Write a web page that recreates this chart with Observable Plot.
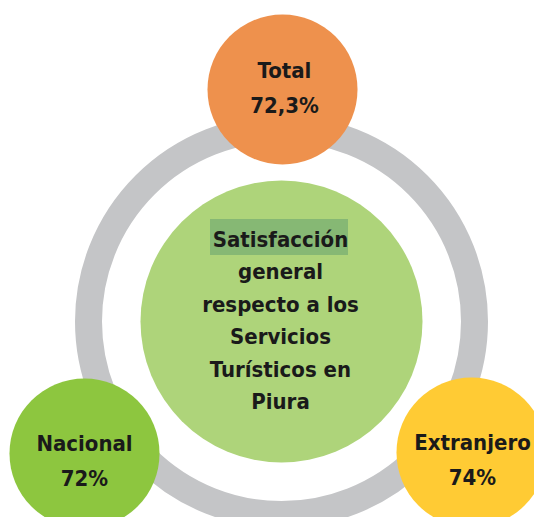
<!DOCTYPE html>
<html>
<head>
<meta charset="utf-8">
<script src="https://cdn.jsdelivr.net/npm/d3@7"></script>
<script src="https://cdn.jsdelivr.net/npm/@observablehq/plot@0.6"></script>
<style>
  html, body { margin: 0; padding: 0; background: #fff; overflow: hidden; }
  #chart svg { display: block; }
</style>
</head>
<body>
<div id="chart"></div>
<script>
// ---- data ----
const categories = ["Total", "Nacional", "Extranjero"];
const satisfaction = [72.3, 72, 74];
const centerTitle = ["Satisfacción", "general", "respecto a los", "Servicios", "Turísticos en", "Piura"];

// ---- layout (chart units = pixels of the 534x517 frame) ----
const hub = {x: 281, y: 321};
const nodeLayout = [
  {x: 282, y: 89,  tx: 284, ty: 84,  color: "#EE914D"},
  {x: 84,  y: 453, tx: 84,  ty: 457, color: "#8DC63F"},
  {x: 471, y: 452, tx: 472, ty: 456, color: "#FFCB34"}
];
const nodes = categories.map((c, i) => ({
  name: c,
  value: satisfaction[i],
  label: c + "\n" + String(satisfaction[i]).replace(".", ",") + "%",
  ...nodeLayout[i]
}));
const highlight = [{x1: 210, x2: 348, y1: 219, y2: 255}];

const font = "'DejaVu Sans Condensed', 'DejaVu Sans', sans-serif";

const chart = Plot.plot({
  width: 534,
  height: 517,
  margin: 0,
  style: {background: "#fff", fontFamily: font},
  x: {domain: [0, 534], range: [0, 534], axis: null},
  y: {domain: [0, 517], range: [0, 517], axis: null},
  marks: [
    Plot.dot([hub], {x: "x", y: "y", r: 193, stroke: "#C4C5C7", strokeWidth: 27, fill: "none"}),
    Plot.dot([hub], {x: "x", y: "y", r: 141, fill: "#AED47A", stroke: "none"}),
    Plot.rect(highlight, {x1: "x1", x2: "x2", y1: "y1", y2: "y2", fill: "#86B874"}),
    Plot.text([{x: 280, y: 317}], {
      x: "x", y: "y",
      text: () => centerTitle.join("\n"),
      fontSize: 22, fontWeight: "bold", lineHeight: 1.48, fill: "#1a1a1a",
      fontFamily: font
    }),
    Plot.dot(nodes, {x: "x", y: "y", r: 75, fill: "color", stroke: "none"}),
    Plot.text(nodes, {
      x: "tx", y: "ty", text: "label",
      fontSize: 22, fontWeight: "bold", lineHeight: 1.59, fill: "#1a1a1a",
      fontFamily: font
    })
  ]
});
document.getElementById("chart").appendChild(chart);
</script>
</body>
</html>
